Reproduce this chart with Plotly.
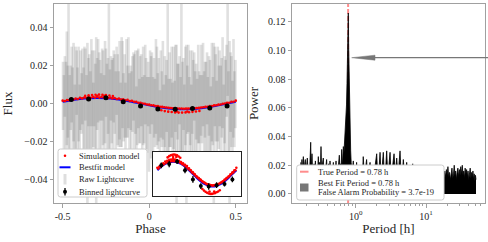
import math
import plotly.graph_objects as go

# ---------------- data ----------------
model_phase = [-0.5, -0.45, -0.4, -0.35, -0.3, -0.25, -0.2, -0.15, -0.1, -0.05, 0.0,
               0.05, 0.1, 0.15, 0.2, 0.25, 0.3, 0.35, 0.4, 0.45, 0.5]
model_flux = [0.00093, 0.00176, 0.00243, 0.00285, 0.0030, 0.00285, 0.00243, 0.00176, 0.00093, 0.0, -0.00093,
              -0.00176, -0.00243, -0.00285, -0.0030, -0.00285, -0.00243, -0.00176, -0.00093, 0.0, 0.00093]

sim_phase_a = [-0.5, -0.475, -0.45, -0.425, -0.4, -0.375, -0.35, -0.325, -0.3, -0.275, -0.25, -0.225, -0.2, -0.175,
               -0.15, -0.125, -0.1, -0.075, -0.05, -0.025, 0.0, 0.025, 0.05, 0.075, 0.1, 0.125, 0.15, 0.175, 0.2,
               0.225, 0.25, 0.275, 0.3, 0.325, 0.35, 0.375, 0.4, 0.425, 0.45, 0.475, 0.5]
sim_flux_a = [0.0015, 0.0018, 0.0023, 0.0026, 0.0030, 0.0032, 0.0034, 0.0035, 0.0036, 0.0035, 0.0033, 0.0032, 0.0029,
              0.0026, 0.0022, 0.0019, 0.0014, 0.0009, 0.0004, -0.0001, -0.0006, -0.0010, -0.0014, -0.0018, -0.0021,
              -0.0024, -0.0026, -0.0027, -0.0028, -0.0027, -0.0026, -0.0024, -0.0021, -0.0018, -0.0014, -0.0010,
              -0.0006, -0.0001, 0.0004, 0.0009, 0.0015]
sim_phase_b = [-0.4875, -0.4625, -0.4375, -0.4125, -0.3875, -0.3625, -0.3375, -0.3125, -0.2875, -0.2625, -0.2375,
               -0.2125, -0.1875, -0.1625, -0.1375, -0.1125, -0.0875, -0.0625, -0.0375, -0.0125, 0.0125, 0.0375,
               0.0625, 0.0875, 0.1125, 0.1375, 0.1625, 0.1875, 0.2125, 0.2375, 0.2625, 0.2875, 0.3125, 0.3375,
               0.3625, 0.3875, 0.4125, 0.4375, 0.4625, 0.4875]
sim_flux_b = [0.0013, 0.0017, 0.0021, 0.0024, 0.0027, 0.0029, 0.0030, 0.0031, 0.0031, 0.0030, 0.0029, 0.0027, 0.0024,
              0.0021, 0.0017, 0.0013, 0.0009, 0.0004, 0.0000, -0.0005, -0.0009, -0.0013, -0.0017, -0.0020, -0.0023,
              -0.0025, -0.0026, -0.0027, -0.0027, -0.0026, -0.0025, -0.0023, -0.0020, -0.0017, -0.0013, -0.0009,
              -0.0005, 0.0000, 0.0004, 0.0009]
sim_phase_c = [-0.37, -0.35, -0.33, -0.31, -0.30, -0.29, -0.27, -0.26, -0.25, -0.23, -0.21,
               0.07, 0.09, 0.11, 0.13, 0.15, 0.16, 0.17, 0.19, 0.21, 0.22, 0.23, 0.25, 0.27, 0.29]
sim_flux_c = [0.0040, 0.0043, 0.0045, 0.0046, 0.0041, 0.0047, 0.0046, 0.0041, 0.0045, 0.0042, 0.0039,
              -0.0036, -0.0040, -0.0043, -0.0045, -0.0047, -0.0042, -0.0048, -0.0048, -0.0047, -0.0042, -0.0046,
              -0.0044, -0.0042, -0.0039]

bin_phase = [-0.45, -0.35, -0.25, -0.15, -0.05, 0.05, 0.15, 0.25, 0.35, 0.45]
bin_flux = [0.0021, 0.0024, 0.0030, 0.0009, -0.0013, -0.0029, -0.0030, -0.0027, -0.0024, -0.0013]
bin_err = [0.0007, 0.0008, 0.0006, 0.0007, 0.0008, 0.0007, 0.0008, 0.0007, 0.0006, 0.0007]

raw_phase = [
    -0.498, -0.493, -0.487, -0.481, -0.476, -0.470, -0.466, -0.459, -0.453, -0.448,
    -0.442, -0.437, -0.430, -0.425, -0.419, -0.414, -0.408, -0.402, -0.397, -0.391,
    -0.386, -0.380, -0.374, -0.369, -0.362, -0.357, -0.351, -0.346, -0.340, -0.334,
    -0.329, -0.323, -0.318, -0.312, -0.306, -0.301, -0.295, -0.289, -0.284, -0.278,
    -0.272, -0.267, -0.261, -0.255, -0.250, -0.244, -0.238, -0.233, -0.227, -0.221,
    -0.216, -0.210, -0.205, -0.199, -0.193, -0.188, -0.182, -0.176, -0.171, -0.165,
    -0.159, -0.154, -0.148, -0.142, -0.137, -0.131, -0.125, -0.120, -0.114, -0.108,
    -0.103, -0.097, -0.091, -0.086, -0.080, -0.074, -0.069, -0.063, -0.057, -0.052,
    -0.046, -0.040, -0.035, -0.029, -0.023, -0.018, -0.012, -0.006, -0.001, 0.005,
    0.011, 0.016, 0.022, 0.028, 0.033, 0.039, 0.045, 0.050, 0.056, 0.062,
    0.067, 0.073, 0.079, 0.084, 0.090, 0.096, 0.101, 0.107, 0.113, 0.118,
    0.124, 0.130, 0.135, 0.141, 0.147, 0.152, 0.158, 0.164, 0.169, 0.175,
    0.181, 0.186, 0.192, 0.198, 0.203, 0.209, 0.215, 0.220, 0.226, 0.232,
    0.237, 0.243, 0.249, 0.254, 0.260, 0.266, 0.271, 0.277, 0.283, 0.288,
    0.294, 0.300, 0.305, 0.311, 0.317, 0.322, 0.328, 0.334, 0.339, 0.345,
    0.351, 0.356, 0.362, 0.368, 0.373, 0.379, 0.385, 0.390, 0.396, 0.402,
    0.407, 0.413, 0.419, 0.424, 0.430, 0.436, 0.441, 0.447, 0.453, 0.458,
    0.464, 0.470, 0.475, 0.481, 0.487, 0.492, 0.498]
raw_flux = [
    0.004, -0.006, 0.009, -0.002, 0.008, 0.001, 0.012, -0.007, 0.003, 0.010,
    -0.004, 0.006, -0.009, 0.002, 0.011, -0.003, 0.005, -0.008, 0.007, 0.000,
    0.009, -0.005, 0.003, 0.010, -0.007, -0.012, 0.006, 0.001, -0.004, 0.011,
    0.002, -0.006, 0.008, -0.003, -0.010, 0.005, 0.012, -0.001, 0.007, -0.005,
    0.010, 0.003, -0.007, 0.006, 0.011, -0.002, 0.004, 0.010, -0.006, 0.008,
    0.001, -0.004, 0.009, 0.005, -0.008, 0.012, 0.002, -0.003, 0.007, -0.006,
    0.006, 0.010, -0.002, 0.004, -0.009, 0.008, 0.001, 0.011, -0.005, 0.003,
    -0.007, 0.005, 0.009, -0.001, 0.006, -0.010, 0.003, 0.008, -0.004, 0.002,
    0.007, -0.008, 0.004, -0.003, 0.010, 0.000, -0.006, 0.005, -0.011, 0.006,
    -0.002, 0.008, -0.009, 0.003, -0.005, 0.009, 0.004, -0.004, 0.002, -0.010,
    0.005, -0.003, 0.007, -0.008, 0.001, -0.006, 0.004, 0.012, -0.009, 0.002,
    -0.005, 0.006, -0.010, 0.003, -0.007, 0.008, -0.012, 0.001, -0.004, 0.007,
    -0.008, 0.010, -0.002, 0.005, -0.011, 0.004, -0.013, 0.002, 0.008, -0.006,
    0.003, -0.009, 0.006, -0.004, 0.009, -0.007, 0.001, -0.010, 0.005, -0.002,
    -0.006, 0.007, -0.003, 0.010, -0.008, 0.002, -0.005, 0.008, -0.009, 0.004,
    -0.001, -0.011, 0.006, -0.004, -0.012, 0.009, 0.003, -0.007, 0.005, -0.002,
    0.008, -0.006, 0.003, 0.011, -0.008, 0.002, -0.004, 0.012, 0.030, -0.005,
    -0.010, 0.006, 0.001, -0.007, 0.008, -0.003, 0.005]
raw_err = [
    0.018, 0.021, 0.016, 0.024, 0.030, 0.019, 0.042, 0.022, 0.017, 0.020,
    0.023, 0.026, 0.019, 0.028, 0.017, 0.022, 0.025, 0.018, 0.021, 0.016,
    0.020, 0.024, 0.027, 0.019, 0.022, 0.044, 0.018, 0.025, 0.021, 0.023,
    0.026, 0.017, 0.020, 0.024, 0.045, 0.019, 0.022, 0.028, 0.016, 0.021,
    0.019, 0.025, 0.022, 0.027, 0.018, 0.023, 0.020, 0.045, 0.024, 0.017,
    0.022, 0.028, 0.019, 0.021, 0.025, 0.018, 0.024, 0.020, 0.026, 0.017,
    0.029, 0.023, 0.018, 0.022, 0.020, 0.026, 0.019, 0.024, 0.021, 0.017,
    0.024, 0.020, 0.018, 0.027, 0.022, 0.019, 0.025, 0.021, 0.017, 0.023,
    0.019, 0.022, 0.026, 0.018, 0.021, 0.024, 0.020, 0.017, 0.025, 0.022,
    0.027, 0.019, 0.023, 0.021, 0.018, 0.025, 0.026, 0.020, 0.022, 0.017,
    0.023, 0.020, 0.026, 0.018, 0.024, 0.021, 0.019, 0.042, 0.022, 0.025,
    0.018, 0.024, 0.021, 0.027, 0.019, 0.023, 0.043, 0.020, 0.025, 0.018,
    0.022, 0.045, 0.024, 0.019, 0.021, 0.026, 0.044, 0.018, 0.023, 0.020,
    0.025, 0.019, 0.022, 0.027, 0.018, 0.024, 0.020, 0.023, 0.026, 0.019,
    0.021, 0.024, 0.018, 0.022, 0.025, 0.020, 0.027, 0.019, 0.023, 0.021,
    0.024, 0.020, 0.026, 0.018, 0.044, 0.021, 0.023, 0.019, 0.025, 0.022,
    0.020, 0.026, 0.021, 0.024, 0.018, 0.023, 0.027, 0.019, 0.026, 0.022,
    0.043, 0.021, 0.024, 0.019, 0.026, 0.020, 0.018]

period_h = [
    0.165, 0.168, 0.172, 0.176, 0.180, 0.184, 0.188, 0.192, 0.196, 0.200,
    0.205, 0.210, 0.215, 0.220, 0.225, 0.229, 0.233, 0.239, 0.244, 0.250,
    0.256, 0.262, 0.267, 0.273, 0.280, 0.287, 0.294, 0.300, 0.307, 0.314,
    0.321, 0.327, 0.334, 0.346, 0.354, 0.362, 0.370, 0.378, 0.386, 0.395,
    0.404, 0.413, 0.422, 0.431, 0.441, 0.451, 0.461, 0.471, 0.481, 0.492,
    0.503, 0.514, 0.525, 0.537, 0.549, 0.561, 0.573, 0.585, 0.597, 0.610,
    0.621, 0.632, 0.645, 0.657, 0.667, 0.680, 0.693,
    0.705, 0.716, 0.728, 0.740, 0.752, 0.765, 0.777, 0.785, 0.794, 0.803,
    0.811, 0.820, 0.830, 0.839, 0.848, 0.862, 0.877, 0.890, 0.905, 0.925,
    0.950, 0.975, 1.00, 1.03, 1.06, 1.10, 1.15, 1.20, 1.24, 1.28,
    1.33, 1.38, 1.43, 1.48, 1.54, 1.60, 1.66, 1.73, 1.80, 1.88,
    1.99, 2.06, 2.14, 2.22, 2.30, 2.38, 2.47, 2.56, 2.66, 2.76,
    2.86, 2.97, 3.08, 3.20, 3.35, 3.51, 3.67, 3.83, 4.00, 4.10,
    4.27, 4.45, 4.60, 4.76, 5.00, 5.31, 5.60, 6.00, 6.47, 6.90,
    7.38, 8.0, 8.8, 9.6, 10.5, 11.5, 12.5, 13.6, 14.8, 16.0,
    17.6, 18.0, 18.5, 19.0, 19.5, 20.0, 20.5, 21.0, 21.6, 22.2,
    22.8, 23.4, 24.0, 24.6, 25.2, 25.8, 26.4, 27.0, 27.7, 28.4,
    29.1, 29.8, 30.5, 31.2, 32.0, 32.8, 33.6, 34.4, 35.2, 36.0,
    36.9, 37.8, 38.7, 39.6, 40.5, 41.5, 42.5, 43.5, 44.5, 45.5,
    46.5, 47.5, 48.5, 49.5, 50.5, 51.4]
power = [
    0.022, 0.014, 0.024, 0.016, 0.026, 0.015, 0.021, 0.024, 0.014, 0.022,
    0.025, 0.016, 0.020, 0.013, 0.024, 0.036, 0.017, 0.028, 0.014, 0.019,
    0.021, 0.013, 0.023, 0.016, 0.020, 0.015, 0.026, 0.018, 0.022, 0.015,
    0.033, 0.017, 0.021, 0.025, 0.014, 0.020, 0.016, 0.022, 0.024, 0.013,
    0.019, 0.021, 0.014, 0.023, 0.016, 0.020, 0.012, 0.021, 0.022, 0.014,
    0.019, 0.016, 0.023, 0.013, 0.020, 0.017, 0.022, 0.027, 0.015, 0.021,
    0.018, 0.031, 0.019, 0.025, 0.033, 0.028, 0.035,
    0.040, 0.045, 0.056, 0.062, 0.077, 0.090, 0.101, 0.126, 0.102, 0.085,
    0.070, 0.068, 0.050, 0.040, 0.030, 0.022, 0.018, 0.012, 0.019, 0.023,
    0.010, 0.016, 0.009, 0.022, 0.011, 0.015, 0.008, 0.017, 0.010, 0.026,
    0.012, 0.018, 0.024, 0.010, 0.016, 0.022, 0.009, 0.014, 0.012, 0.018,
    0.028, 0.011, 0.016, 0.029, 0.012, 0.019, 0.029, 0.013, 0.017, 0.030,
    0.012, 0.020, 0.029, 0.011, 0.018, 0.028, 0.013, 0.025, 0.012, 0.017,
    0.030, 0.011, 0.015, 0.024, 0.010, 0.022, 0.011, 0.014, 0.021, 0.008,
    0.016, 0.010, 0.013, 0.007, 0.012, 0.008, 0.014, 0.009, 0.013, 0.010,
    0.015, 0.011, 0.016, 0.012, 0.017, 0.013, 0.019, 0.012, 0.015, 0.010,
    0.016, 0.018, 0.011, 0.014, 0.020, 0.013, 0.016, 0.010, 0.015, 0.018,
    0.012, 0.017, 0.013, 0.019, 0.014, 0.020, 0.013, 0.016, 0.011, 0.018,
    0.014, 0.017, 0.012, 0.016, 0.010, 0.014, 0.018, 0.011, 0.015, 0.012,
    0.016, 0.010, 0.014, 0.009, 0.013, 0.010]

true_period = 0.78
best_period = 0.78
false_alarm = "3.7e-19"

# ---------------- layout helpers (pixel -> paper) ----------------
W, H = 488, 242
ML, MR, MT, MB = 54, 3, 4, 39
PW = W - ML - MR
PH = H - MT - MB


def px(x):
    return (x - ML) / PW


def py(y):
    return (H - MB - y) / PH


FONT = "Liberation Serif"
SPINE = "#a0a0a0"
TXT = "#262626"

RAW_COL = "rgba(70,70,70,0.17)"
RED = "red"
BLUE = "blue"

fig = go.Figure()

# ---------- left panel ----------
fig.add_trace(go.Scatter(x=raw_phase, y=raw_flux, mode="markers",
                         marker=dict(size=1, color="rgba(0,0,0,0)"),
                         error_y=dict(type="data", array=raw_err, color=RAW_COL, thickness=2.6, width=0),
                         xaxis="x", yaxis="y", showlegend=False))
fig.add_trace(go.Scatter(x=model_phase, y=model_flux, mode="lines",
                         line=dict(color=BLUE, width=2.2, shape="spline"),
                         xaxis="x", yaxis="y", showlegend=False))
fig.add_trace(go.Scatter(x=sim_phase_a + sim_phase_b + sim_phase_c,
                         y=sim_flux_a + sim_flux_b + sim_flux_c, mode="markers",
                         marker=dict(size=2.6, color=RED),
                         xaxis="x", yaxis="y", showlegend=False))
fig.add_trace(go.Scatter(x=bin_phase, y=bin_flux, mode="markers",
                         marker=dict(size=5, color="black"),
                         error_y=dict(type="data", array=bin_err, color="black", thickness=1.3, width=0),
                         xaxis="x", yaxis="y", showlegend=False))

# ---------- inset ----------
fig.add_trace(go.Scatter(x=model_phase, y=model_flux, mode="lines",
                         line=dict(color=BLUE, width=2.2, shape="spline"),
                         xaxis="x3", yaxis="y3", showlegend=False))
fig.add_trace(go.Scatter(x=sim_phase_a + sim_phase_b + sim_phase_c,
                         y=sim_flux_a + sim_flux_b + sim_flux_c, mode="markers",
                         marker=dict(size=2.6, color=RED),
                         xaxis="x3", yaxis="y3", showlegend=False))
fig.add_trace(go.Scatter(x=bin_phase, y=bin_flux, mode="markers",
                         marker=dict(size=4, color="black"),
                         error_y=dict(type="data", array=bin_err, color="black", thickness=1.3, width=0),
                         xaxis="x3", yaxis="y3", showlegend=False))

# ---------- right panel ----------
p_lo, p_hi = -0.0063, 0.1323
fig.add_trace(go.Scatter(x=[true_period, true_period], y=[p_lo, p_hi], mode="lines",
                         line=dict(color="rgba(255,0,0,0.45)", width=2, dash="5px,2px"),
                         xaxis="x2", yaxis="y2", showlegend=False))
fig.add_trace(go.Scatter(x=period_h, y=power, mode="lines", fill="tozeroy",
                         line=dict(color="black", width=0.8), fillcolor="black",
                         xaxis="x2", yaxis="y2", showlegend=False))

axis_common = dict(showline=True, mirror=True, linecolor=SPINE, linewidth=1,
                   ticks="outside", ticklen=3.5, tickcolor=SPINE, tickwidth=1,
                   showgrid=False, zeroline=False,
                   tickfont=dict(family=FONT, size=10, color=TXT))

fig.update_layout(
    width=W, height=H,
    margin=dict(l=ML, r=MR, t=MT, b=MB),
    paper_bgcolor="white", plot_bgcolor="white",
    font=dict(family=FONT, color=TXT),
    hovermode=False,
    xaxis=dict(domain=[0, px(247)], range=[-0.55, 0.565], anchor="y",
               tickvals=[-0.5, 0, 0.5], ticktext=["-0.5", "0", "0.5"],
               title=dict(text="Phase", font=dict(family=FONT, size=13, color=TXT), standoff=3),
               **axis_common),
    yaxis=dict(domain=[0, 1], range=[-0.0525, 0.0525], anchor="x",
               tickvals=[-0.04, -0.02, 0, 0.02, 0.04],
               ticktext=["\u22120.04", "\u22120.02", "0.00", "0.02", "0.04"],
               title=dict(text="Flux", font=dict(family=FONT, size=13, color=TXT), standoff=8),
               **axis_common),
    xaxis2=dict(domain=[px(292), 1], type="log", range=[-0.906, 1.839], anchor="y2",
                tickvals=[1, 10], ticktext=["10<sup>0</sup>", "10<sup>1</sup>"],
                minor=dict(ticks="outside", ticklen=2, tickcolor=SPINE, tickwidth=0.8,
                           tickvals=[0.2, 0.3, 0.4, 0.5, 0.6, 0.7, 0.8, 0.9,
                                     2, 3, 4, 5, 6, 7, 8, 9, 20, 30, 40, 50, 60]),
                title=dict(text="Period [h]", font=dict(family=FONT, size=13, color=TXT), standoff=3),
                **axis_common),
    yaxis2=dict(domain=[0, 1], range=[p_lo, p_hi], anchor="x2",
                tickvals=[0, 0.02, 0.04, 0.06, 0.08, 0.10, 0.12],
                ticktext=["0.00", "0.02", "0.04", "0.06", "0.08", "0.10", "0.12"],
                title=dict(text="Power", font=dict(family=FONT, size=13, color=TXT), standoff=6),
                **axis_common),
    xaxis3=dict(domain=[px(153), px(240.7)], range=[-0.555, 0.555], anchor="y3",
                showline=True, mirror=True, linecolor="#222", linewidth=1,
                showticklabels=False, ticks="", showgrid=False, zeroline=False),
    yaxis3=dict(domain=[py(196), py(152)], range=[-0.0053, 0.0053], anchor="x3",
                showline=True, mirror=True, linecolor="#222", linewidth=1,
                showticklabels=False, ticks="", showgrid=False, zeroline=False),
)


def rounded_rect(x0, y0, x1, y1, r=2.5):
    # pixel coords -> paper path with rounded corners
    rx = r / PW
    ry = r / PH
    X0, X1 = px(x0), px(x1)
    Y0, Y1 = py(y1), py(y0)  # bottom, top in paper
    return (f"M{X0 + rx},{Y0} L{X1 - rx},{Y0} Q{X1},{Y0} {X1},{Y0 + ry} "
            f"L{X1},{Y1 - ry} Q{X1},{Y1} {X1 - rx},{Y1} L{X0 + rx},{Y1} "
            f"Q{X0},{Y1} {X0},{Y1 - ry} L{X0},{Y0 + ry} Q{X0},{Y0} {X0 + rx},{Y0} Z")


shapes = []
# left legend box
shapes.append(dict(type="path", path=rounded_rect(58, 149, 147, 197), xref="paper", yref="paper",
                   fillcolor="white", line=dict(color="#cccccc", width=1), layer="above"))
# legend symbols (left)
shapes.append(dict(type="circle", xref="paper", yref="paper", x0=px(63.7), x1=px(66.3), y0=py(157), y1=py(154.4),
                   fillcolor=RED, line=dict(width=0), layer="above"))
shapes.append(dict(type="line", xref="paper", yref="paper", x0=px(59.5), x1=px(70.5), y0=py(167.3), y1=py(167.3),
                   line=dict(color=BLUE, width=2), layer="above"))
shapes.append(dict(type="rect", xref="paper", yref="paper", x0=px(63.5), x1=px(66.5), y0=py(184.5), y1=py(174),
                   fillcolor="rgba(90,90,90,0.2)", line=dict(width=0), layer="above"))
shapes.append(dict(type="line", xref="paper", yref="paper", x0=px(65), x1=px(65), y0=py(195.5), y1=py(188),
                   line=dict(color="black", width=1.3), layer="above"))
shapes.append(dict(type="circle", xref="paper", yref="paper", x0=px(63), x1=px(67), y0=py(193.7), y1=py(189.7),
                   fillcolor="black", line=dict(width=0), layer="above"))

# right legend box
shapes.append(dict(type="path", path=rounded_rect(296.7, 165, 444, 200), xref="paper", yref="paper",
                   fillcolor="white", line=dict(color="#cccccc", width=1), layer="above"))
shapes.append(dict(type="line", xref="paper", yref="paper", x0=px(300), x1=px(308.5), y0=py(171.7), y1=py(171.7),
                   line=dict(color="rgba(255,0,0,0.45)", width=2), layer="above"))
shapes.append(dict(type="rect", xref="paper", yref="paper", x0=px(300), x1=px(308.5), y0=py(191.5), y1=py(183.5),
                   fillcolor="#777777", line=dict(width=0), layer="above"))

# arrow pointing to the peak
shapes.append(dict(type="line", xref="paper", yref="paper", x0=px(374), x1=px(489), y0=py(57.7), y1=py(57.7),
                   line=dict(color="#777777", width=1.3), layer="above"))
shapes.append(dict(type="path", xref="paper", yref="paper",
                   path=f"M{px(351.7)},{py(57.7)} L{px(375)},{py(55.2)} L{px(375)},{py(60.2)} Z",
                   fillcolor="#777777", line=dict(color="#777777", width=0.5), layer="above"))

fig.update_layout(shapes=shapes)

ann = []
leg_font = dict(family=FONT, size=8.5, color=TXT)
for text, yy in [("Simulation model", 155.7), ("Bestfit model", 167.3),
                 ("Raw Lightcurve", 179.3), ("Binned lightcurve", 191.7)]:
    ann.append(dict(text=text, x=px(77), y=py(yy), xref="paper", yref="paper", xanchor="left",
                    yanchor="middle", showarrow=False, font=leg_font))
for text, yy in [(f"True Period = {true_period} h", 171.7),
                 (f"Best Fit Period = {best_period} h", 183.3),
                 (f"False Alarm Probability = {false_alarm}", 191.7)]:
    ann.append(dict(text=text, x=px(316), y=py(yy), xref="paper", yref="paper", xanchor="left",
                    yanchor="middle", showarrow=False, font=leg_font))
fig.update_layout(annotations=ann)

fig.write_html("out.html", config={"displayModeBar": False},
               post_script="document.body.style.margin='0';")
